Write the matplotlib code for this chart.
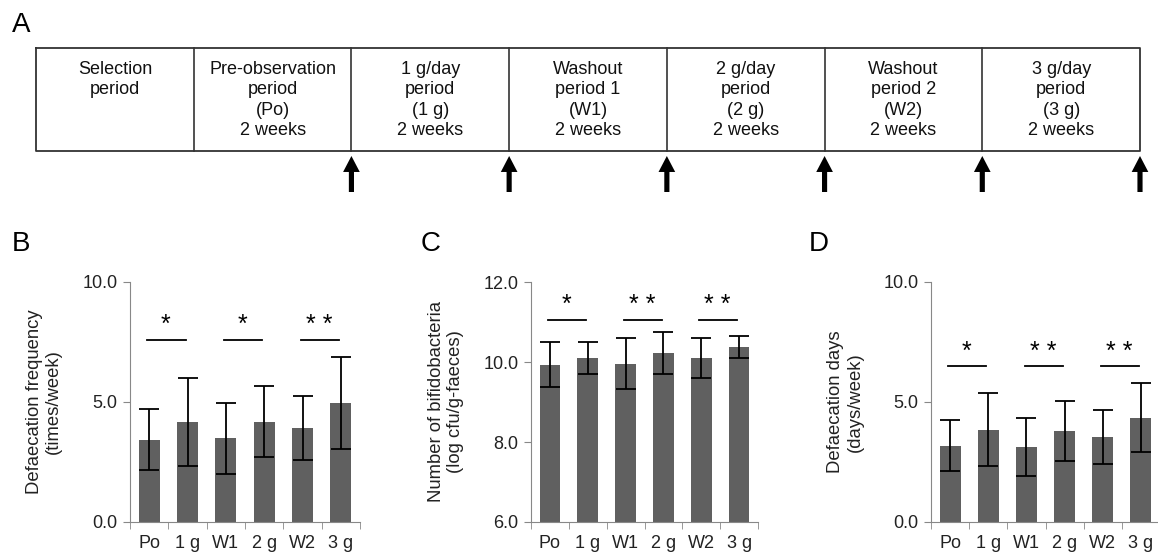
import numpy as np
import matplotlib.pyplot as plt

plt.rcParams['font.family'] = ['Liberation Sans', 'DejaVu Sans']

W, H = 1158, 555

# ---- data ----
groups = ['Po', '1 g', 'W1', '2 g', 'W2', '3 g']

freq_mean = [3.43, 4.18, 3.49, 4.18, 3.92, 4.97]
freq_sd = [1.27, 1.84, 1.47, 1.47, 1.32, 1.92]

bifido_mean = [9.93, 10.10, 9.96, 10.22, 10.10, 10.38]
bifido_sd = [0.56, 0.40, 0.64, 0.53, 0.51, 0.27]

days_mean = [3.17, 3.85, 3.12, 3.80, 3.55, 4.34]
days_sd = [1.06, 1.52, 1.22, 1.25, 1.13, 1.44]

sig_pairs = [(0, 1), (2, 3), (4, 5)]
freq_stars = ['*', '*', '**']
bifido_stars = ['*', '**', '**']
days_stars = ['*', '**', '**']

periods = ['Selection\nperiod',
           'Pre-observation\nperiod\n(Po)\n2 weeks',
           '1 g/day\nperiod\n(1 g)\n2 weeks',
           'Washout\nperiod 1\n(W1)\n2 weeks',
           '2 g/day\nperiod\n(2 g)\n2 weeks',
           'Washout\nperiod 2\n(W2)\n2 weeks',
           '3 g/day\nperiod\n(3 g)\n2 weeks']
arrow_at = [2, 3, 4, 5, 6, 7]  # sampling points (cell boundaries)


def px_axes(fig, x0, y0, x1, y1):
    # pixel box (top-left origin) -> figure axes
    return fig.add_axes([x0 / W, 1 - y1 / H, (x1 - x0) / W, (y1 - y0) / H])


fig = plt.figure(figsize=(W / 100, H / 100), dpi=100)

# ---- panel A: study design ----
axA = px_axes(fig, 36, 40, 1140, 200)
axA.set_xlim(0, len(periods))
axA.set_ylim(200, 40)
axA.axis('off')
axA.plot([0, len(periods), len(periods), 0, 0], [48, 48, 151, 151, 48],
         color='#333333', lw=1.3, clip_on=False)
for i, txt in enumerate(periods):
    if i > 0:
        axA.plot([i, i], [48, 151], color='#333333', lw=1.2)
    axA.text(i + 0.5, 60.5, txt, ha='center', va='top', fontsize=13,
             linespacing=1.27, color='#111111')
for a in arrow_at:
    axA.annotate('', xy=(a, 156), xytext=(a, 192),
                 arrowprops=dict(arrowstyle='simple,head_length=1.15,'
                                 'head_width=1.2,tail_width=0.37',
                                 fc='black', ec='none', mutation_scale=10,
                                 shrinkA=0, shrinkB=0),
                 annotation_clip=False)
fig.text(21 / W, 1 - 25 / H, 'A', fontsize=20, ha='center', va='center')


def bar_panel(x0, width, ylim, yticks, means, sds, stars, sig_y, ylabel,
              letter, lx):
    ax = px_axes(fig, x0, 282, x0 + width, 522)
    x = np.arange(len(groups))
    ax.bar(x, np.array(means) - ylim[0], bottom=ylim[0], width=0.55,
           color='#606060', zorder=2)
    ax.errorbar(x, means, yerr=sds, fmt='none', ecolor='black',
                elinewidth=1.3, capsize=7, capthick=1.3, zorder=3)
    for (a, b), s in zip(sig_pairs, stars):
        ax.plot([a - 0.05, b - 0.05], [sig_y, sig_y], color='black', lw=1.3)
        ax.annotate(s.replace('**', '* *'),
                    xy=((a + b) / 2 - 0.07, sig_y), xytext=(0, 2),
                    textcoords='offset points', ha='center', va='bottom',
                    fontsize=18)
    ax.set_xlim(-0.5, len(groups) - 0.5)
    ax.set_ylim(*ylim)
    ax.set_yticks(yticks)
    ax.set_yticklabels(['%.1f' % v for v in yticks], fontsize=13,
                       color='#222222')
    ax.set_xticks(x)
    ax.set_xticklabels(groups, fontsize=13, color='#222222')
    ax.set_xticks(np.arange(-0.5, len(groups)), minor=True)
    ax.tick_params(axis='x', which='major', length=0, pad=9)
    ax.tick_params(axis='x', which='minor', length=5, color='#888888')
    ax.tick_params(axis='y', length=5, color='#888888', pad=4)
    for side in ['top', 'right']:
        ax.spines[side].set_visible(False)
    for side in ['left', 'bottom']:
        ax.spines[side].set_color('#888888')
    ax.set_ylabel(ylabel, fontsize=13.3, color='#222222', linespacing=1.15)
    ax.yaxis.set_label_coords(-0.295, 0.5)
    fig.text(lx / W, 1 - 244 / H, letter, fontsize=20, ha='center',
             va='center')
    return ax


bar_panel(130, 230, (0, 10), [0, 5, 10], freq_mean, freq_sd, freq_stars, 7.6,
          'Defaecation frequency\n(times/week)', 'B', 21)
bar_panel(531, 227, (6, 12), [6, 8, 10, 12], bifido_mean, bifido_sd,
          bifido_stars, 11.06, 'Number of bifidobacteria\n(log cfu/g-faeces)',
          'C', 431)
bar_panel(931, 229, (0, 10), [0, 5, 10], days_mean, days_sd, days_stars, 6.48,
          'Defaecation days\n(days/week)', 'D', 819)

fig.savefig('out.png', dpi=100)
